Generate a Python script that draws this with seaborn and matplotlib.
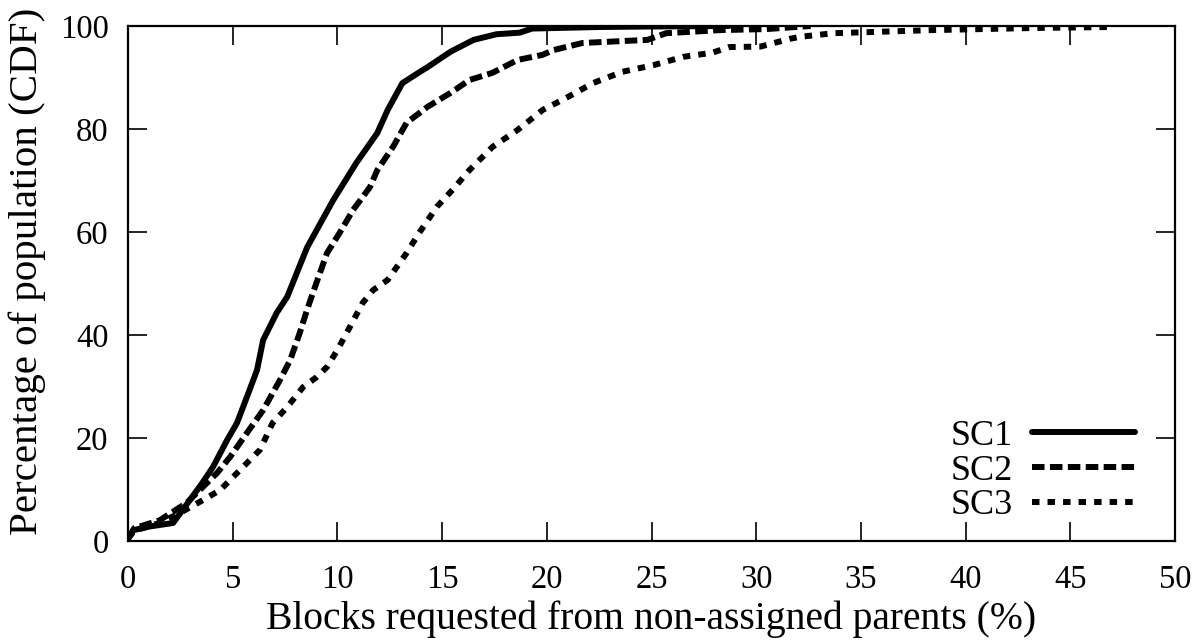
import matplotlib
matplotlib.use("Agg")
import matplotlib.pyplot as plt
import seaborn as sns
import pandas as pd

# CDF of blocks requested from non-assigned parents, per scenario
sc1_x = [0, 0.25, 1.0, 2.15, 2.96, 3.5, 4.06, 4.73, 5.2, 5.68, 6.16, 6.45, 7.1, 7.6,
         8.55, 9.8, 10.9, 11.9, 12.4, 13.1, 13.9, 14.3, 15.4, 16.5, 17.6, 18.7, 19.3,
         22.5, 25.0, 28.7]
sc1_y = [0.5, 2.1, 2.8, 3.5, 8, 11, 14.4, 19.6, 22.9, 28, 33.2, 39, 44.3, 47.4,
         57, 66.2, 73.4, 79.2, 83.7, 88.9, 91, 92, 95, 97.3, 98.4, 98.7, 99.5,
         99.8, 99.9, 100]

sc2_x = [0, 0.3, 1.5, 2.8, 4.25, 4.87, 5.68, 6.45, 7.26, 7.74, 8.2, 8.55, 8.83, 9.5,
         10.1, 10.75, 11.55, 11.9, 12.65, 13.3, 14.3, 15.4, 16.3, 17.4, 18.6, 19.8,
         20.3, 21.7, 24.8, 25.7, 28.3, 30.5, 32.6]
sc2_y = [0.5, 2.5, 4, 7.4, 13.2, 16.3, 21, 25.4, 31.3, 35.1, 40.4, 44.9, 48.2, 55.9,
         59.8, 64.3, 68.7, 72, 76.5, 81.2, 84.3, 87, 89.5, 90.9, 93.4, 94.4,
         95.3, 96.7, 97.3, 98.6, 99.2, 99.4, 100]

sc3_x = [0, 0.3, 1.5, 2.5, 3.6, 4.4, 5.35, 6.3, 6.9, 7.6, 8.36, 9.0, 9.5, 10.0, 10.6,
         11.2, 11.7, 12.4, 13.3, 13.9, 14.75, 15.5, 16.3, 17.4, 18.6, 19.8, 21.0,
         22.2, 23.6, 25.1, 26.5, 27.9, 28.7, 30.2, 31.6, 32.1, 33.7, 35.3, 38.4,
         43.2, 46.9]
sc3_y = [0.5, 2.0, 3.5, 5.5, 8, 9.9, 13.8, 17.7, 22.9, 26, 29.9, 31.8, 33.8, 37.1, 41.6,
         46.2, 48.7, 50.7, 55.9, 59.8, 64.9, 68.2, 72, 76.5, 79.8, 83.7, 86.2,
         88.9, 91.1, 92.4, 94, 94.8, 95.9, 96.0, 97.5, 97.9, 98.6, 98.8, 99.2,
         99.6, 99.8]

series_names = ["SC1", "SC2", "SC3"]
x_ticks = [0, 5, 10, 15, 20, 25, 30, 35, 40, 45, 50]
y_ticks = [0, 20, 40, 60, 80, 100]

df = pd.concat([
    pd.DataFrame({"x": sc1_x, "y": sc1_y, "scenario": "SC1"}),
    pd.DataFrame({"x": sc2_x, "y": sc2_y, "scenario": "SC2"}),
    pd.DataFrame({"x": sc3_x, "y": sc3_y, "scenario": "SC3"}),
], ignore_index=True)

sns.set_theme(style="ticks")
plt.rcParams["font.family"] = ["Liberation Serif", "DejaVu Serif"]
plt.rcParams["lines.dash_capstyle"] = "butt"
plt.rcParams["text.color"] = "black"
plt.rcParams["axes.labelcolor"] = "black"

fig = plt.figure(figsize=(12, 6.43), dpi=100)
ax = fig.add_axes([0.1067, 0.1586, 0.8725, 0.801])

LW = 4.3
dash_styles = {"SC1": "", "SC2": (2.1, 0.9), "SC3": (1.25, 1.35)}
sns.lineplot(data=df, x="x", y="y", style="scenario", style_order=series_names,
             dashes=dash_styles, color="black", linewidth=LW, estimator=None,
             sort=False, ax=ax, legend=False)

handles = []
for name in series_names:
    h, = ax.plot([], [], color="black", linewidth=LW, label=name)
    if dash_styles[name]:
        h.set_dashes(dash_styles[name])
    handles.append(h)

ax.legend(handles=handles, labels=series_names, loc="lower right",
          bbox_to_anchor=(0.962, 0.036), frameon=False, markerfirst=False,
          fontsize=26, handlelength=2.85, handletextpad=0.55, labelspacing=0.04,
          borderaxespad=0, borderpad=0, labelcolor="black")

ax.set_xlim(0, 50)
ax.set_ylim(0, 100)
ax.set_xticks(x_ticks)
ax.set_yticks(y_ticks)
ax.tick_params(direction="in", length=14, width=1.2, labelsize=23.5,
               top=True, right=True, colors="black")
ax.tick_params(axis="x", pad=17)
ax.tick_params(axis="y", pad=14)
for sp in ax.spines.values():
    sp.set_visible(True)
    sp.set_linewidth(1.6)
    sp.set_color("black")

ax.set_xlabel("Blocks requested from non-assigned parents (%)", fontsize=28.5, labelpad=4)
ax.set_ylabel("Percentage of population (CDF)", fontsize=29.5)
ax.yaxis.set_label_coords(-0.078, 0.524)

fig.savefig("out.png", dpi=100)
